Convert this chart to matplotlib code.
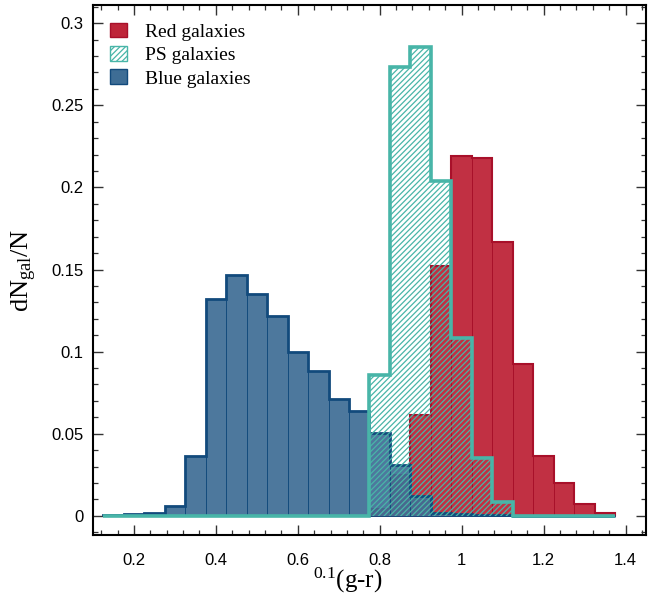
import numpy as np
import matplotlib
matplotlib.use("Agg")
import matplotlib.pyplot as plt
from matplotlib.patches import Patch
from matplotlib.ticker import MultipleLocator, AutoMinorLocator, FormatStrFormatter

plt.rcParams['mathtext.fontset'] = 'custom'
plt.rcParams['mathtext.rm'] = 'Liberation Serif'
plt.rcParams['mathtext.it'] = 'Liberation Serif:italic'
plt.rcParams['hatch.linewidth'] = 0.9

# bin edges of the colour histogram, 0.05 wide
edges = np.round(np.arange(0.125, 1.3751, 0.05), 3)

# heights per bin (25 bins, 0.125 ... 1.375)
red = [0, 0, 0, 0, 0, 0, 0, 0, 0, 0, 0, 0, 0,
       0.004, 0.025, 0.0614, 0.152, 0.219, 0.218, 0.167,
       0.0923, 0.0363, 0.0199, 0.0075, 0.0016]
blue = [0.0006, 0.001, 0.002, 0.0063, 0.0365, 0.132, 0.1466, 0.1352,
        0.1218, 0.1, 0.0884, 0.0714, 0.0639,
        0.0505, 0.031, 0.0124, 0.0016, 0.0009, 0.0005, 0.0003,
        0, 0, 0, 0, 0]
ps = [0, 0, 0, 0, 0, 0, 0, 0, 0, 0, 0, 0, 0,
      0.0855, 0.2733, 0.2855, 0.204, 0.108, 0.035, 0.0083,
      0, 0, 0, 0, 0]
labels = ['Red galaxies', 'PS galaxies', 'Blue galaxies']

red_c, red_e = '#BE2539', '#A8102A'
blue_c, blue_e = '#3E6D95', '#124A7C'
ps_c = '#48B5A8'

fig = plt.figure(figsize=(6.67, 5.97), dpi=100)
ax = fig.add_axes([0.1394, 0.1039, 0.8291, 0.8877])

centers = (edges[:-1] + edges[1:]) / 2
w = edges[1] - edges[0]

# red
ax.bar(centers, red, width=w, color=red_c, edgecolor=red_e, linewidth=0.7, alpha=0.95, zorder=1)
ax.stairs(red, edges, baseline=0, fill=False, edgecolor=red_e, linewidth=1.5, zorder=2)

# blue
ax.bar(centers, blue, width=w, color=blue_c, edgecolor=blue_e, linewidth=0.7, alpha=0.92, zorder=3)
ax.stairs(blue, edges, baseline=0, fill=False, edgecolor=blue_e, linewidth=2.0, zorder=4)

# passive spirals: hatch only + thick outline
ax.stairs(ps, edges, baseline=0, fill=True, facecolor='none', edgecolor=ps_c,
          hatch='//////', linewidth=0, zorder=5)
ax.stairs(ps, edges, baseline=0, fill=False, edgecolor=ps_c, linewidth=2.6, zorder=6)

ax.set_xlim(0.1, 1.45)
ax.set_ylim(-0.0116, 0.311)

ax.xaxis.set_major_locator(MultipleLocator(0.2))
ax.xaxis.set_minor_locator(AutoMinorLocator(5))
ax.yaxis.set_major_locator(MultipleLocator(0.05))
ax.yaxis.set_minor_locator(AutoMinorLocator(5))
ax.xaxis.set_major_formatter(FormatStrFormatter('%g'))
ax.yaxis.set_major_formatter(FormatStrFormatter('%g'))

ax.tick_params(which='both', direction='in', top=True, right=True, color='#333333')
ax.tick_params(which='major', length=7.5, width=1.0)
ax.tick_params(which='minor', length=3.5, width=0.9)
ax.tick_params(axis='x', which='major', pad=13)
ax.tick_params(axis='y', which='major', pad=7)
for lab in ax.get_xticklabels() + ax.get_yticklabels():
    lab.set_fontfamily('Liberation Sans')
    lab.set_fontsize(12)
for s in ax.spines.values():
    s.set_linewidth(1.5)

ax.set_xlabel(r'$^{0.1}$(g-r)', fontfamily='Liberation Serif', fontsize=18)
ax.xaxis.set_label_coords(0.46, -0.058)
ax.set_ylabel(r'$\mathrm{dN_{gal}/N}$', fontsize=19)
ax.yaxis.set_label_coords(-0.098, 0.5)

handles = [Patch(facecolor=red_c, edgecolor=red_e, linewidth=1.0),
           Patch(facecolor='white', edgecolor=ps_c, hatch='//////', linewidth=1.0),
           Patch(facecolor=blue_c, edgecolor=blue_e, linewidth=1.0)]
ax.legend(handles, labels, loc='upper left', frameon=False, handlelength=0.85,
          handleheight=0.8, handletextpad=0.95, labelspacing=0.27,
          prop={'family': 'Liberation Serif', 'size': 14})

fig.savefig('out.png', dpi=100)
